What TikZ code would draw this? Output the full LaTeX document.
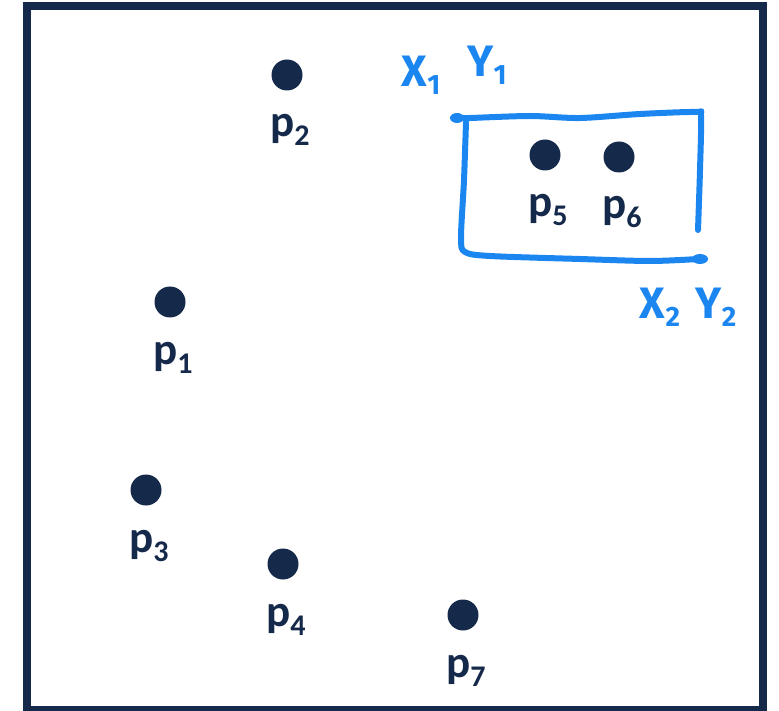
\documentclass[tikz,border=0pt]{standalone}
\usepackage{fontspec}
\setmainfont{Carlito}
\newfontfamily\handfont{Fira Sans}
\definecolor{navy}{RGB}{21,41,74}
\definecolor{pen}{RGB}{28,134,240}
\newcommand{\ptlab}[1]{{\fontsize{45}{45}\selectfont\bfseries p\raisebox{-9pt}{\fontsize{30}{30}\selectfont #1}}}
\newcommand{\handlab}[2]{{\handfont\bfseries\fontsize{44}{44}\selectfont #1\raisebox{-8pt}{\fontsize{28}{28}\selectfont #2}}}
\tikzset{
  dot/.style={circle, fill=navy, inner sep=0pt, minimum size=31pt},
  ptlabel/.style={text=navy, inner sep=0pt, anchor=base},
  handtext/.style={text=pen, inner sep=0pt},
  penline/.style={draw=pen, line width=6pt, line cap=round, line join=round}
}
\begin{document}
\begin{tikzpicture}[x=1pt,y=-1pt]
\useasboundingbox (0,0) rectangle (779,711);
\draw[navy, line width=8pt] (27,6) rectangle (763,710);
% points
\foreach \n/\x/\y in {1/170/302, 2/287/75, 3/146/490, 4/283/564, 5/545/155, 6/619/157, 7/463/615}{
  \node[dot] (p\n) at (\x,\y) {};
  \node[ptlabel] (l\n) at (\x+3,\y+62) {\ptlab{\n}};
}
% hand-drawn box
\path[fill=pen] (457,118) ellipse (7 and 5);
\path[fill=pen] (700,259) ellipse (8 and 5);
\draw[penline] plot[smooth, tension=0.5] coordinates {(457,118) (470,118) (530,116) (580,118) (640,114) (696,112) (701,116) (700,170) (698,230)};
\draw[penline] plot[smooth, tension=0.5] coordinates {(466,122) (464,180) (461,238) (465,252) (490,256) (580,259) (650,261) (698,259)};
% handwritten labels
\node[handtext] (x1) at (421,75) {\handlab{X}{1}};
\node[handtext] (y1) at (487,65) {\handlab{Y}{1}};
\node[handtext] (x2) at (660,307) {\handlab{X}{2}};
\node[handtext] (y2) at (716,307) {\handlab{Y}{2}};
\end{tikzpicture}
\end{document}
